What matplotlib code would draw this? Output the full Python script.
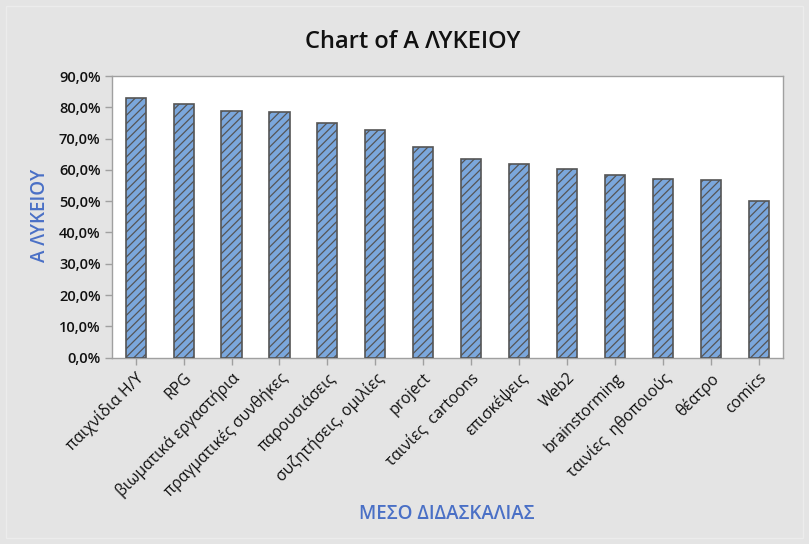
import matplotlib
matplotlib.use("Agg")
import matplotlib.pyplot as plt
from matplotlib.ticker import FuncFormatter
from matplotlib.patches import Rectangle

plt.rcParams['font.family'] = ['Open Sans', 'DejaVu Sans']
plt.rcParams['hatch.linewidth'] = 0.9

categories = ["παιχνίδια H/Y", "RPG", "βιωματικά εργαστήρια", "πραγματικές συνθήκες",
              "παρουσιάσεις", "συζητήσεις, ομιλίες", "project", "ταινίες  cartoons",
              "επισκέψεις", "Web2", "brainstorming", "ταινίες  ηθοποιούς", "θέατρο", "comics"]
values = [83.0, 81.0, 78.9, 78.4, 75.1, 72.8, 67.2, 63.6, 61.8, 60.4, 58.5, 57.2, 56.7, 50.2]
yticks = [0, 10, 20, 30, 40, 50, 60, 70, 80, 90]

bg = '#e4e4e4'
blue_text = '#4a70c6'
fig = plt.figure(figsize=(8.09, 5.44), dpi=100, facecolor=bg)
fig.patches.append(Rectangle((6/809, 6/544), 1 - 12/809, 1 - 12/544, transform=fig.transFigure,
                             fill=False, edgecolor='#ececec', linewidth=1.0))
ax = fig.add_axes([111.7/809, 1 - 357.7/544, (782.7 - 111.7)/809, (357.7 - 76)/544])
ax.set_facecolor('white')

x = list(range(len(categories)))
ax.bar(x, values, width=0.42, color='#7ba7dc', edgecolor='#555555', hatch='////', linewidth=1.2, zorder=3)

ax.set_xlim(-0.5, len(categories) - 0.5)
ax.set_ylim(0, 90)
ax.set_yticks(yticks)
ax.yaxis.set_major_formatter(FuncFormatter(lambda v, p: f"{v:.1f}%".replace('.', ',')))
ax.set_xticks(x)
ax.set_xticklabels(categories, rotation=45, ha='right', va='top', rotation_mode='anchor')

for s in ax.spines.values():
    s.set_color('#a0a0a0')
    s.set_linewidth(1.0)
ax.tick_params(axis='both', colors='#a0a0a0', length=5, width=1.0, labelcolor='#111111')
ax.tick_params(axis='y', labelsize=10.5, pad=3)
ax.tick_params(axis='x', labelsize=11.3, pad=4)
for lab in ax.get_yticklabels():
    lab.set_fontweight('semibold')

fig.text(413/809, 1 - 42/544, "Chart of Α ΛΥΚΕΙΟΥ", ha='center', va='center',
         fontsize=17, fontweight='semibold', color='#111111')
fig.text(447/809, 1 - 514/544, "ΜΕΣΟ ΔΙΔΑΣΚΑΛΙΑΣ", ha='center', va='center',
         fontsize=13.5, fontweight='semibold', color=blue_text)
fig.text(40/809, 1 - 215/544, "Α ΛΥΚΕΙΟΥ", ha='center', va='center', rotation=90,
         fontsize=13.5, fontweight='semibold', color=blue_text)

fig.savefig('out.png', dpi=100, facecolor=bg)
